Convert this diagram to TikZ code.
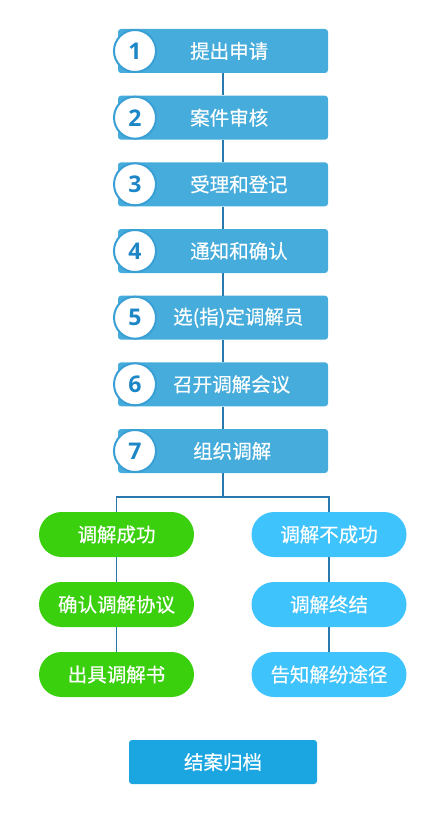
\documentclass[tikz,border=0pt]{standalone}
\usepackage{fontspec}
\usepackage{tikz}
\usetikzlibrary{positioning}
\newfontfamily\cjk[FakeBold=0.4]{Noto Sans CJK SC}
\newfontfamily\numfont{Open Sans}
\definecolor{stepblue}{HTML}{45ACDB}
\definecolor{ringblue}{HTML}{3A9FD5}
\definecolor{numblue}{HTML}{1C86C6}
\definecolor{linkblue}{HTML}{2A78AC}
\definecolor{okgreen}{HTML}{3AD00E}
\definecolor{noblue}{HTML}{3EC3FD}
\definecolor{endblue}{HTML}{1CA6E1}

\begin{document}
\begin{tikzpicture}[x=1pt, y=-1pt,
  stepbox/.style={fill=stepblue, rounded corners=3pt, minimum width=210pt, minimum height=44pt, inner sep=0pt},
  steptext/.style={anchor=west, inner sep=0pt, text=white, font=\cjk\fontsize{19.5}{20}\selectfont},
  numring/.style={circle, draw=ringblue, line width=2pt, fill=white, minimum size=42pt, inner sep=0pt,
    text=numblue, font=\numfont\bfseries\fontsize{23}{24}\selectfont},
  pill/.style={rounded corners=22.5pt, minimum width=155pt, minimum height=45pt, inner sep=0pt,
    text=white, font=\cjk\fontsize{19.5}{20}\selectfont},
  okpill/.style={pill, fill=okgreen},
  nopill/.style={pill, fill=noblue},
  link/.style={draw=linkblue, line width=1.3pt}]
  \useasboundingbox (0,0) rectangle (440,813);
  % steps 1..7
  \node[stepbox] (s1) at (223,51) {};
  \node[stepbox] (s2) at (223,117.7) {};
  \node[stepbox] (s3) at (223,184.3) {};
  \node[stepbox] (s4) at (223,251) {};
  \node[stepbox] (s5) at (223,317.7) {};
  \node[stepbox] (s6) at (223,384.3) {};
  \node[stepbox] (s7) at (223,451) {};
  \node[steptext] (t1) at ([xshift=-33pt]s1.center) {提出申请};
  \node[steptext] (t2) at ([xshift=-33pt]s2.center) {案件审核};
  \node[steptext] (t3) at ([xshift=-33pt]s3.center) {受理和登记};
  \node[steptext] (t4) at ([xshift=-33pt]s4.center) {通知和确认};
  \node[steptext] (t5) at ([xshift=-50pt]s5.center) {选(指)定调解员};
  \node[steptext] (t6) at ([xshift=-50pt]s6.center) {召开调解会议};
  \node[steptext] (t7) at ([xshift=-30pt]s7.center) {组织调解};
  \foreach \i in {1,...,7}
    \node[numring] (n\i) at ([xshift=-88pt]s\i.center) {\i};
  \foreach \i/\j in {1/2,2/3,3/4,4/5,5/6,6/7}
    \draw[link] (s\i.south) -- (s\j.north);
  % two outcomes
  \node[okpill] (ok1) at (116.5,534.5) {调解成功};
  \node[okpill] (ok2) at (116.5,604.5) {确认调解协议};
  \node[okpill] (ok3) at (116.5,674.5) {出具调解书};
  \node[nopill] (no1) at (329,534.5) {调解不成功};
  \node[nopill] (no2) at (329,604.5) {调解终结};
  \node[nopill] (no3) at (329,674.5) {告知解纷途径};
  \coordinate (fork) at (223,497);
  \draw[link] (s7.south) -- (fork);
  \draw[link] (fork) -| (ok1.north);
  \draw[link] (fork) -| (no1.north);
  \draw[link] (ok1) -- (ok2);
  \draw[link] (ok2) -- (ok3);
  \draw[link] (no1) -- (no2);
  \draw[link] (no2) -- (no3);
  % archive
  \node[fill=endblue, rounded corners=3pt, minimum width=188pt, minimum height=44pt, inner sep=0pt,
    text=white, font=\cjk\fontsize{19.5}{20}\selectfont] (arch) at (223,762) {结案归档};
\end{tikzpicture}
\end{document}
